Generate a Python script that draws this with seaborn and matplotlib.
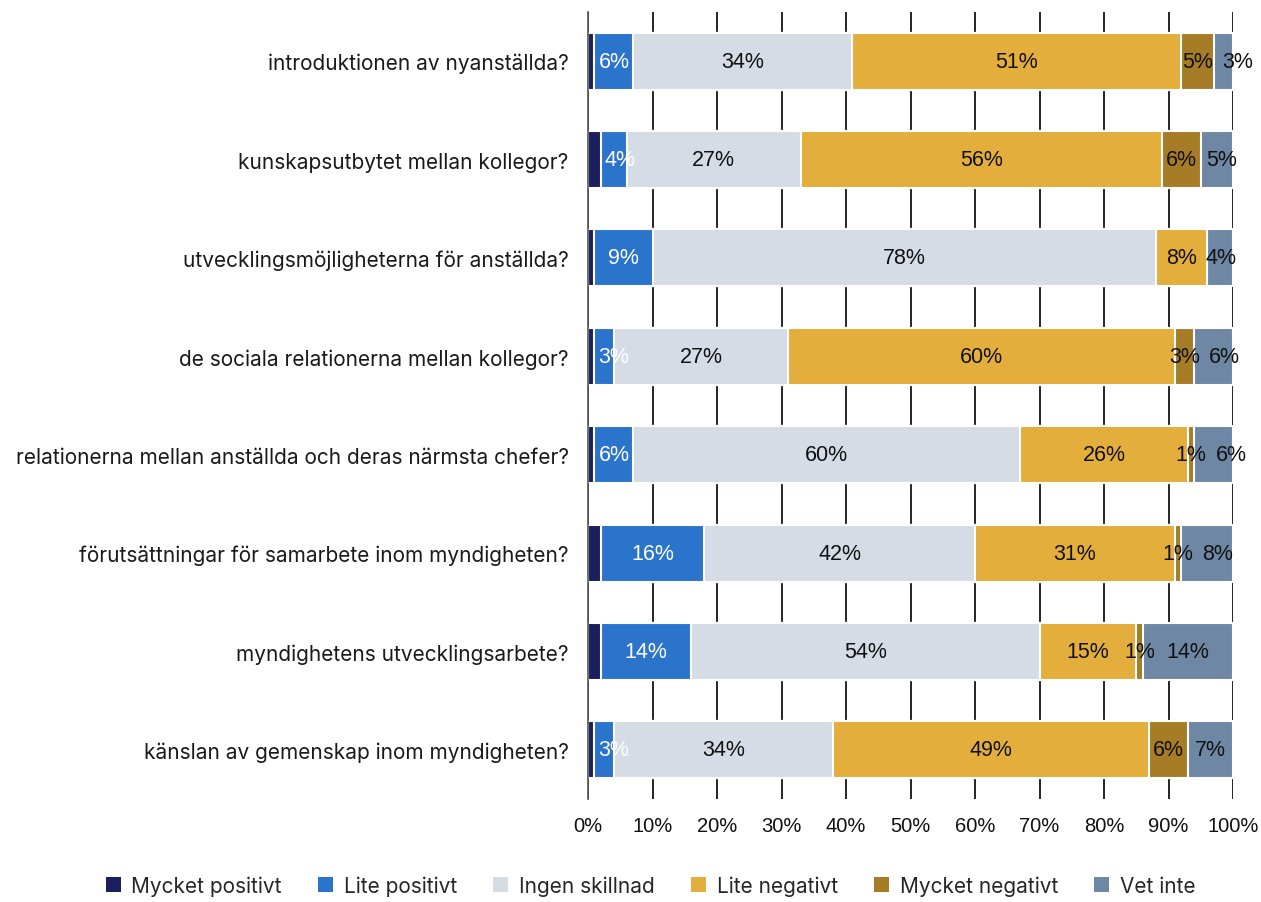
import numpy as np
import pandas as pd
import matplotlib
matplotlib.use("Agg")
import matplotlib.pyplot as plt
import seaborn as sns
from matplotlib.patches import Patch

# Data (percent)
questions = [
    "introduktionen av nyanställda?",
    "kunskapsutbytet mellan kollegor?",
    "utvecklingsmöjligheterna för anställda?",
    "de sociala relationerna mellan kollegor?",
    "relationerna mellan anställda och deras närmsta chefer?",
    "förutsättningar för samarbete inom myndigheten?",
    "myndighetens utvecklingsarbete?",
    "känslan av gemenskap inom myndigheten?",
]
categories = ["Mycket positivt", "Lite positivt", "Ingen skillnad",
              "Lite negativt", "Mycket negativt", "Vet inte"]

mycket_positivt = [1, 2, 1, 1, 1, 2, 2, 1]
lite_positivt = [6, 4, 9, 3, 6, 16, 14, 3]
ingen_skillnad = [34, 27, 78, 27, 60, 42, 54, 34]
lite_negativt = [51, 56, 8, 60, 26, 31, 15, 49]
mycket_negativt = [5, 6, 0, 3, 1, 1, 1, 6]
vet_inte = [3, 5, 4, 6, 6, 8, 14, 7]

colors = ["#1c1f5e", "#2b74cc", "#d5dce6", "#e3ae3c", "#a67c27", "#6e87a4"]
label_colors = [None, "white", "#111111", "#111111", "#111111", "#111111"]

series = [mycket_positivt, lite_positivt, ingen_skillnad,
          lite_negativt, mycket_negativt, vet_inte]
df = pd.DataFrame(dict(zip(categories, series)), index=questions)
cum = df.cumsum(axis=1)

sns.set_theme(style="white")
plt.rcParams["font.family"] = ["Inter", "DejaVu Sans"]
num_font = ["Liberation Sans", "DejaVu Sans"]

fig = plt.figure(figsize=(12.61, 9.03), dpi=100)
ax = fig.add_axes([0.4663, 0.1141, 0.5115, 0.8715])

# stacked bars by overlaying cumulative totals, largest first
for cat, col in reversed(list(zip(categories, colors))):
    sns.barplot(x=cum[cat].values, y=questions, order=questions, color=col,
                saturation=1, width=0.58, orient="h", edgecolor="white",
                linewidth=1.5, ax=ax, zorder=3)

ax.set_xlim(0, 100)
ax.set_ylim(7.5, -0.5)
ax.set_xticks(np.arange(0, 101, 10))
ax.set_xticklabels([f"{t}%" for t in range(0, 101, 10)], family=num_font)
ax.xaxis.grid(True, color="black", linewidth=1.2)
ax.yaxis.grid(False)
ax.set_axisbelow(True)
ax.tick_params(axis="x", length=0, pad=12, labelsize=14.5, colors="#111111")
ax.tick_params(axis="y", length=0, pad=14, labelsize=15, colors="#1a1a1a")
ax.set_xlabel("")
ax.set_ylabel("")
for s in ["top", "right", "bottom"]:
    ax.spines[s].set_visible(False)
ax.spines["left"].set_color("#555555")
ax.spines["left"].set_linewidth(1.2)
ax.spines["left"].set_zorder(5)

# value labels, centred in segments, pushed right when they would collide
fig.canvas.draw()
renderer = fig.canvas.get_renderer()
px_per_unit = ax.transData.transform((1, 0))[0] - ax.transData.transform((0, 0))[0]
gap = 9
for i, q in enumerate(questions):
    prev_right = None
    for j, cat in enumerate(categories):
        v = df.loc[q, cat]
        if label_colors[j] is None or v <= 0:
            continue
        seg_left = cum.loc[q, cat] - v
        xc = cum.loc[q, cat] - v / 2
        t = ax.text(xc, i, f"{v}%", ha="center", va="center", fontsize=15.5,
                    family=num_font, color=label_colors[j], zorder=4)
        w = t.get_window_extent(renderer).width / px_per_unit
        left = xc - w / 2
        if j == 1:
            left = max(left, seg_left + 4 / px_per_unit)
        if prev_right is not None:
            left = max(left, prev_right + gap / px_per_unit)
        t.set_x(left + w / 2)
        prev_right = left + w

handles = [Patch(facecolor=c, edgecolor="none") for c in colors]
fig.legend(handles, categories, loc="lower center", bbox_to_anchor=(0.516, -0.014),
           ncol=6, frameon=False, fontsize=15, handlelength=0.72, handleheight=0.72,
           handletextpad=0.5, columnspacing=1.75)

fig.savefig("out.png", dpi=100)
